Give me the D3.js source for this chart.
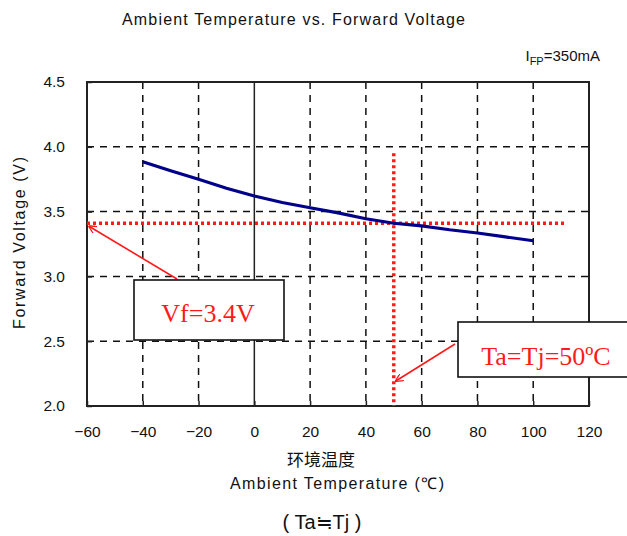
<!DOCTYPE html>
<html>
<head>
<meta charset="utf-8">
<script src="https://cdn.jsdelivr.net/npm/d3@7"></script>
<style>
  body { margin: 0; background: #fff; }
  svg { display: block; }
</style>
</head>
<body>
<div id="chart"></div>
<script>
// data
const temps = [-40, -30, -20, -10, 0, 10, 20, 30, 40, 50, 60, 70, 80, 90, 100];
const voltages = [3.885, 3.815, 3.75, 3.68, 3.62, 3.57, 3.53, 3.49, 3.445, 3.41, 3.39, 3.36, 3.335, 3.305, 3.275];
const xTicks = [-60, -40, -20, 0, 20, 40, 60, 80, 100, 120];
const yTicks = [2.0, 2.5, 3.0, 3.5, 4.0, 4.5];
const markVf = 3.41;
const markTa = 50;

const width = 627, height = 536;
const margin = {top: 82, right: 38, bottom: 130, left: 87};
const w = width - margin.left - margin.right;
const h = height - margin.top - margin.bottom;

const svg = d3.select('#chart').append('svg')
  .attr('width', width)
  .attr('height', height);

const x = d3.scaleLinear().domain([-60, 120]).range([0, w]);
const y = d3.scaleLinear().domain([2.0, 4.5]).range([h, 0]);

const plot = svg.append('g')
  .attr('transform', `translate(${margin.left}, ${margin.top})`);

// grid
plot.selectAll('.vgrid')
  .data(xTicks.filter(d => d > -60 && d < 120))
  .join('line')
    .attr('x1', d => x(d)).attr('x2', d => x(d))
    .attr('y1', 0).attr('y2', h)
    .attr('stroke', d => d === 0 ? '#222' : '#111')
    .attr('stroke-width', 1.5)
    .attr('stroke-dasharray', d => d === 0 ? null : '7,6');

plot.selectAll('.hgrid')
  .data(yTicks.filter(d => d > 2 && d < 4.5))
  .join('line')
    .attr('x1', 0).attr('x2', w)
    .attr('y1', d => y(d)).attr('y2', d => y(d))
    .attr('stroke', '#111')
    .attr('stroke-width', 1.5)
    .attr('stroke-dasharray', '7,6');

// axes (ticks inward, labels outside)
const xAxis = d3.axisBottom(x)
  .tickValues(xTicks)
  .tickSize(-5)
  .tickPadding(20)
  .tickFormat(d3.format('d'));
const yAxis = d3.axisLeft(y)
  .tickValues(yTicks)
  .tickSize(-5)
  .tickPadding(22)
  .tickFormat(d3.format('.1f'));

const gx = plot.append('g')
  .attr('transform', `translate(0, ${h})`)
  .call(xAxis);
const gy = plot.append('g').call(yAxis);
[gx, gy].forEach(g => {
  g.select('.domain').remove();
  g.selectAll('line').attr('stroke', '#222').attr('stroke-width', 1.5);
  g.selectAll('text')
    .attr('fill', '#111')
    .style('font-family', 'Liberation Sans, Arial, sans-serif')
    .style('font-size', '15.5px');
});

// frame
plot.append('rect')
  .attr('width', w).attr('height', h)
  .attr('fill', 'none')
  .attr('stroke', '#222')
  .attr('stroke-width', 2);

// red guides
plot.append('line')
  .attr('x1', x(-60)).attr('x2', x(112))
  .attr('y1', y(markVf)).attr('y2', y(markVf))
  .attr('stroke', '#ff1a1a')
  .attr('stroke-width', 3.5)
  .attr('stroke-dasharray', '3,3');
plot.append('line')
  .attr('x1', x(markTa)).attr('x2', x(markTa))
  .attr('y1', y(3.95)).attr('y2', y(2.0))
  .attr('stroke', '#ff1a1a')
  .attr('stroke-width', 3.5)
  .attr('stroke-dasharray', '3,3');

// curve
const series = temps.map((t, i) => ({t: t, v: voltages[i]}));
const line = d3.line()
  .x(d => x(d.t))
  .y(d => y(d.v));
plot.append('path')
  .datum(series)
  .attr('fill', 'none')
  .attr('stroke', '#00008b')
  .attr('stroke-width', 3.2)
  .attr('d', line);

// arrows
svg.append('defs').append('marker')
  .attr('id', 'arrow')
  .attr('viewBox', '0 0 10 10')
  .attr('refX', 9).attr('refY', 5)
  .attr('markerWidth', 8).attr('markerHeight', 8)
  .attr('markerUnits', 'userSpaceOnUse')
  .attr('orient', 'auto')
  .append('path')
    .attr('d', 'M0,0 L10,5 L0,10')
    .attr('fill', 'none')
    .attr('stroke', '#ff1a1a')
    .attr('stroke-width', 1.6);

function arrow(x1, y1, x2, y2) {
  svg.append('line')
    .attr('x1', x1).attr('y1', y1)
    .attr('x2', x2).attr('y2', y2)
    .attr('stroke', '#ff1a1a')
    .attr('stroke-width', 1.6)
    .attr('marker-end', 'url(#arrow)');
}
arrow(177, 279, margin.left + 2, margin.top + y(markVf) + 3);
arrow(455, 344, margin.left + x(markTa) + 2, 381);

function callout(bx, by, bw, bh, tx, ty, label) {
  svg.append('rect')
    .attr('x', bx).attr('y', by)
    .attr('width', bw).attr('height', bh)
    .attr('fill', '#fff')
    .attr('stroke', '#111')
    .attr('stroke-width', 1.6);
  svg.append('text')
    .attr('x', tx).attr('y', ty)
    .attr('text-anchor', 'middle')
    .attr('fill', '#ff1a1a')
    .style('font-family', 'Liberation Serif, Times New Roman, serif')
    .style('font-size', '26px')
    .text(label);
}
callout(134, 280, 150, 60, 208, 322, 'Vf=3.4V');
callout(458, 322, 170, 55, 546, 365, 'Ta=Tj=50ºC');

// titles and labels
const sans = 'Liberation Sans, Arial, sans-serif';
svg.append('text')
  .attr('x', 122).attr('y', 25)
  .attr('textLength', 343)
  .attr('lengthAdjust', 'spacing')
  .attr('fill', '#111')
  .style('font-family', sans)
  .style('font-size', '16px')
  .text('Ambient Temperature vs. Forward Voltage');

const ifp = svg.append('text')
  .attr('x', 600).attr('y', 61)
  .attr('text-anchor', 'end')
  .attr('fill', '#111')
  .style('font-family', sans)
  .style('font-size', '15px');
ifp.append('tspan').text('I');
ifp.append('tspan').attr('dy', 4).style('font-size', '11px').text('FP');
ifp.append('tspan').attr('dy', -4).text('=350mA');

svg.append('text')
  .attr('transform', 'translate(25, 243) rotate(-90)')
  .attr('text-anchor', 'middle')
  .attr('textLength', 172)
  .attr('lengthAdjust', 'spacing')
  .attr('fill', '#111')
  .style('font-family', sans)
  .style('font-size', '16px')
  .text('Forward Voltage (V)');

svg.append('text')
  .attr('x', 321).attr('y', 466)
  .attr('text-anchor', 'middle')
  .attr('fill', '#111')
  .style('font-family', 'Noto Sans CJK SC, sans-serif')
  .style('font-size', '17px')
  .text('环境温度');

svg.append('text')
  .attr('x', 230).attr('y', 489)
  .attr('textLength', 214)
  .attr('lengthAdjust', 'spacing')
  .attr('fill', '#111')
  .style('font-family', sans)
  .style('font-size', '16px')
  .text('Ambient Temperature (℃)');

svg.append('text')
  .attr('x', 322).attr('y', 529)
  .attr('text-anchor', 'middle')
  .attr('fill', '#111')
  .style('font-family', sans)
  .style('font-size', '20px')
  .text('( Ta≒Tj )');
</script>
</body>
</html>
